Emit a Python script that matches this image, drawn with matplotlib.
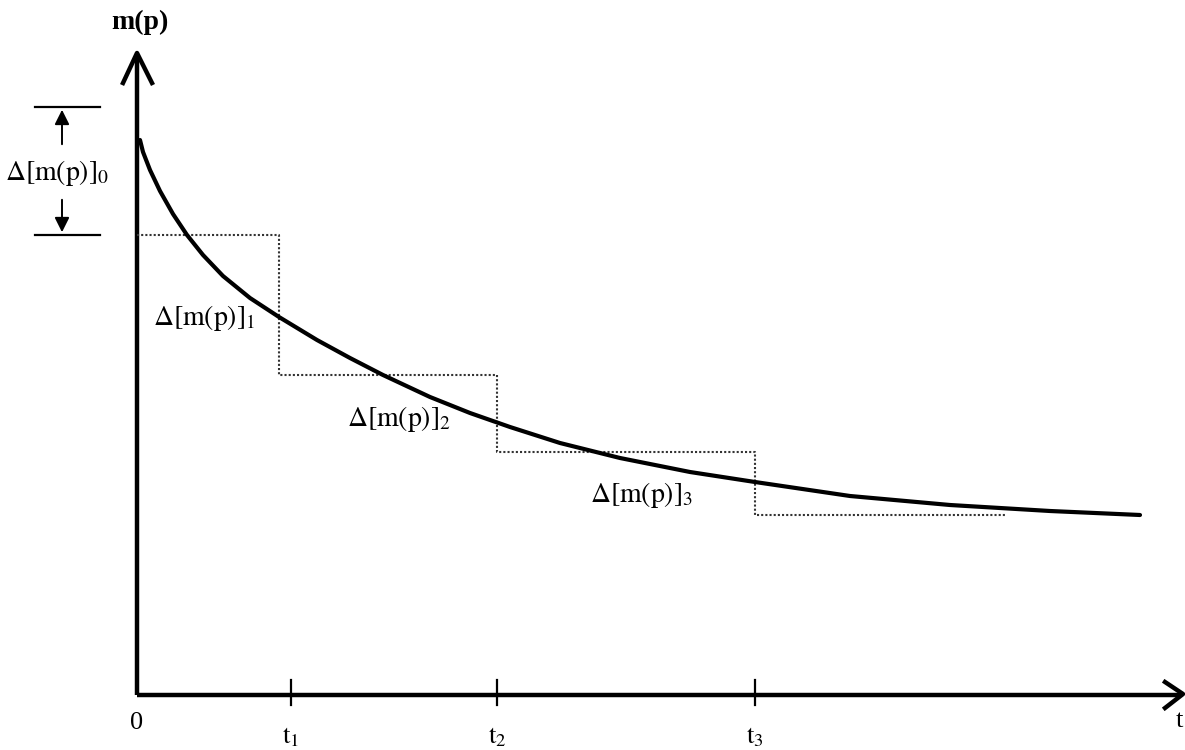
import matplotlib.pyplot as plt

plt.rcParams['mathtext.fontset'] = 'stix'
plt.rcParams['font.family'] = ['Liberation Serif', 'DejaVu Serif']

# curve m(p) (x = time, y = m(p))
curve_x = [0.03, 0.06, 0.13, 0.23, 0.36, 0.50, 0.66, 0.86, 1.13, 1.42, 1.80, 2.13,
           2.46, 2.93, 3.33, 3.73, 4.23, 4.83, 5.53, 6.18, 7.13, 8.13, 9.13, 10.03]
curve_y = [5.55, 5.43, 5.25, 5.04, 4.81, 4.60, 4.40, 4.19, 3.97, 3.78, 3.55, 3.37,
           3.20, 2.98, 2.82, 2.68, 2.52, 2.37, 2.23, 2.13, 1.99, 1.90, 1.84, 1.80]

# step levels (dotted staircase)
step_x = [0.0, 1.42, 1.42, 3.60, 3.60, 6.18, 6.18, 8.68]
step_y = [4.60, 4.60, 3.20, 3.20, 2.43, 2.43, 1.80, 1.80]

tick_pos = [1.54, 3.60, 6.18]
tick_labels = [r'$\mathrm{t}_1$', r'$\mathrm{t}_2$', r'$\mathrm{t}_3$']

step_labels = [r'$\Delta[\mathrm{m(p)}]_1$', r'$\Delta[\mathrm{m(p)}]_2$', r'$\Delta[\mathrm{m(p)}]_3$']
step_label_x = [0.16, 2.10, 4.53]
step_label_y = [3.77, 2.76, 2.00]

top0, bot0 = 5.88, 4.60   # extent of delta 0

fig = plt.figure(figsize=(11.85, 7.5), dpi=100)
ax = fig.add_axes([0, 0, 1, 1])
ax.set_xlim(-1.37, 10.48)
ax.set_ylim(-0.55, 6.95)
ax.axis('off')

# axes
ax.plot([0, 0], [0, 6.40], color='black', lw=3.2, solid_capstyle='butt')
ax.plot([0, 10.44], [0, 0], color='black', lw=3.2, solid_capstyle='butt')
ax.plot([-0.14, 0, 0.15], [6.12, 6.42, 6.12], color='black', lw=3.2)
ax.plot([10.28, 10.46, 10.28], [0.13, 0.01, -0.13], color='black', lw=3.2)

for t in tick_pos:
    ax.plot([t, t], [-0.10, 0.15], color='black', lw=1.6)
for t, lab in zip(tick_pos, tick_labels):
    ax.text(t, -0.42, lab, ha='center', va='center', fontsize=19)
ax.text(0.0, -0.28, '0', ha='center', va='center', fontsize=19)
ax.text(10.39, -0.26, 't', ha='left', va='center', fontsize=19)
ax.text(0.03, 6.73, 'm(p)', ha='center', va='center', fontsize=20, fontweight='bold')

# staircase and curve
ax.plot(step_x, step_y, color='#333333', lw=1.5, ls=(0, (1, 1)))
ax.plot(curve_x, curve_y, color='black', lw=3.0, solid_capstyle='round', solid_joinstyle='round')

for lab, lx, ly in zip(step_labels, step_label_x, step_label_y):
    ax.text(lx, ly, lab, ha='left', va='center', fontsize=20)

# delta 0 annotation
ax.plot([-1.02, -0.37], [top0, top0], color='black', lw=1.6)
ax.plot([-1.02, -0.37], [bot0, bot0], color='black', lw=1.6)
ax.annotate('', xy=(-0.75, top0), xytext=(-0.75, 5.48),
            arrowprops=dict(arrowstyle='-|>', color='black', lw=1.4, mutation_scale=22))
ax.annotate('', xy=(-0.75, bot0), xytext=(-0.75, 4.98),
            arrowprops=dict(arrowstyle='-|>', color='black', lw=1.4, mutation_scale=22))
ax.text(-1.32, 5.22, r'$\Delta[\mathrm{m(p)}]_0$', ha='left', va='center', fontsize=20)

fig.savefig('out.png', dpi=100)
